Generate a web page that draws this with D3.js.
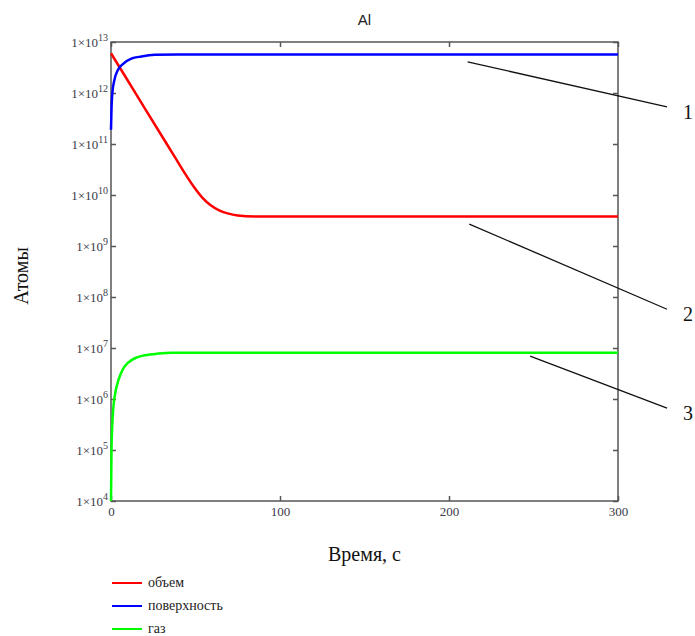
<!DOCTYPE html>
<html>
<head>
<meta charset="utf-8">
<script src="https://cdn.jsdelivr.net/npm/d3@7"></script>
<style>
  body { margin: 0; background: #fff; }
  text { font-family: "Liberation Serif", "Times New Roman", serif; }
</style>
</head>
<body>
<div id="chart"></div>
<script>
// data (time in s, number of atoms)
var volumeT = [0, 10, 20, 30, 38, 44, 49, 54, 59, 64, 69, 75, 85, 300];
var volumeN = [6.0e12, 1.74e12, 5.0e11, 1.45e11, 5.4e10, 2.57e10, 1.45e10, 8.9e9, 6.3e9, 5.0e9, 4.37e9, 3.98e9, 3.8e9, 3.8e9];

var surfaceT = [0, 0.3, 0.8, 2, 4, 7, 12, 18, 26, 40, 300];
var surfaceN = [1.9e11, 5e11, 1.0e12, 1.8e12, 2.8e12, 3.7e12, 4.7e12, 5.2e12, 5.6e12, 5.7e12, 5.7e12];

var gasT = [0, 0.3, 0.7, 1.4, 2.5, 4.3, 7, 10, 15, 20, 28, 36, 300];
var gasN = [1e4, 1e5, 2.8e5, 6.9e5, 1.3e6, 2.3e6, 3.8e6, 5.1e6, 6.5e6, 7.2e6, 7.8e6, 8.1e6, 8.1e6];

var seriesNames = ["объем", "поверхность", "газ"];
var seriesColors = ["#ff0000", "#0000ff", "#00ff00"];

var xTicks = [0, 100, 200, 300];
var yExponents = [4, 5, 6, 7, 8, 9, 10, 11, 12, 13];

// callout lines 1, 2, 3 (data coords: t, atoms)
var calloutLabels = ["1", "2", "3"];
var calloutFrom = [[211, Math.pow(10, 12.61)], [212, Math.pow(10, 9.43)], [248, Math.pow(10, 6.84)]];
var calloutTo = [[329, Math.pow(10, 11.73)], [329, Math.pow(10, 7.76)], [329, Math.pow(10, 5.82)]];

var svgWidth = 695;
var svgHeight = 636;
var margin = { top: 42, right: 77, bottom: 135, left: 111 };
var width = svgWidth - margin.left - margin.right;
var height = svgHeight - margin.top - margin.bottom;

var svg = d3.select("#chart")
  .append("svg")
  .attr("width", svgWidth)
  .attr("height", svgHeight);

var chartGroup = svg.append("g")
  .attr("transform", `translate(${margin.left}, ${margin.top})`);

var xScale = d3.scaleLinear().domain([0, 300]).range([0, width]);
var yScale = d3.scaleLog().domain([1e4, 1e13]).range([height, 0]);

var axisColor = "#555";

// frame
chartGroup.append("rect")
  .attr("width", width)
  .attr("height", height)
  .attr("fill", "none")
  .attr("stroke", axisColor)
  .attr("stroke-width", 1.5);

var yTickVals = yExponents.map(e => Math.pow(10, e));

// left axis with ticks pointing inward
var leftAxis = d3.axisLeft(yScale).tickValues(yTickVals).tickSize(-5).tickPadding(4).tickFormat("");
var leftG = chartGroup.append("g").call(leftAxis);
leftG.select(".domain").remove();
leftG.selectAll(".tick line").attr("stroke", axisColor).attr("stroke-width", 1.5);

// right axis ticks (inward)
var rightG = chartGroup.append("g")
  .attr("transform", `translate(${width},0)`)
  .call(d3.axisRight(yScale).tickValues(yTickVals).tickSize(-5).tickFormat(""));
rightG.select(".domain").remove();
rightG.selectAll(".tick line").attr("stroke", axisColor).attr("stroke-width", 1.5);

// y tick labels: 1×10^n
yExponents.forEach(function (e) {
  var t = chartGroup.append("text")
    .attr("x", -3)
    .attr("y", yScale(Math.pow(10, e)) + 5)
    .attr("text-anchor", "end")
    .attr("fill", "#3a3a48")
    .style("font-size", "13px");
  t.append("tspan").text("1×10");
  t.append("tspan").attr("dy", -6).style("font-size", "10px").text(e);
});

// bottom axis
var bottomG = chartGroup.append("g")
  .attr("transform", `translate(0, ${height})`)
  .call(d3.axisBottom(xScale).tickValues(xTicks).tickSize(-5).tickPadding(6).tickFormat(d3.format("d")));
bottomG.select(".domain").remove();
bottomG.selectAll(".tick line").attr("stroke", axisColor).attr("stroke-width", 1.5);
bottomG.selectAll(".tick text")
  .attr("fill", "#3a3a48")
  .style("font-family", "'Liberation Serif', serif")
  .style("font-size", "13px");

// top ticks
var topG = chartGroup.append("g")
  .call(d3.axisTop(xScale).tickValues(xTicks).tickSize(-5).tickFormat(""));
topG.select(".domain").remove();
topG.selectAll(".tick line").attr("stroke", axisColor).attr("stroke-width", 1.5);

// curves
var allT = [volumeT, surfaceT, gasT];
var allN = [volumeN, surfaceN, gasN];

var line = d3.line()
  .x(d => xScale(d[0]))
  .y(d => yScale(d[1]))
  .curve(d3.curveMonotoneX);

allT.forEach(function (ts, i) {
  var pts = ts.map((t, j) => [t, allN[i][j]]);
  chartGroup.append("path")
    .datum(pts)
    .attr("d", line)
    .attr("fill", "none")
    .attr("stroke", seriesColors[i])
    .attr("stroke-width", 2.5);
});

// callouts
calloutLabels.forEach(function (lab, i) {
  chartGroup.append("line")
    .attr("x1", xScale(calloutFrom[i][0]))
    .attr("y1", yScale(calloutFrom[i][1]))
    .attr("x2", xScale(calloutTo[i][0]))
    .attr("y2", yScale(calloutTo[i][1]))
    .attr("stroke", "#111")
    .attr("stroke-width", 1.3);
  chartGroup.append("text")
    .attr("x", xScale(calloutTo[i][0]) + 16)
    .attr("y", yScale(calloutTo[i][1]) + 12)
    .attr("fill", "#111")
    .style("font-size", "20px")
    .text(lab);
});

// title
svg.append("text")
  .attr("x", margin.left + width / 2)
  .attr("y", 25)
  .attr("text-anchor", "middle")
  .attr("fill", "#222")
  .style("font-family", "'Liberation Sans', Arial, sans-serif")
  .style("font-size", "15px")
  .text("Al");

// axis labels
svg.append("text")
  .attr("transform", "translate(28, 276) rotate(-90)")
  .attr("text-anchor", "middle")
  .attr("fill", "#111")
  .style("font-size", "20px")
  .text("Атомы");

svg.append("text")
  .attr("x", margin.left + width / 2)
  .attr("y", 561)
  .attr("text-anchor", "middle")
  .attr("fill", "#111")
  .style("font-size", "20px")
  .text("Время, с");

// legend
seriesNames.forEach(function (name, i) {
  var y = 583 + i * 23;
  svg.append("line")
    .attr("x1", 112).attr("x2", 142)
    .attr("y1", y).attr("y2", y)
    .attr("stroke", seriesColors[i])
    .attr("stroke-width", 2);
  svg.append("text")
    .attr("x", 148)
    .attr("y", y + 4)
    .attr("fill", "#222")
    .style("font-size", "14px")
    .text(name);
});
</script>
</body>
</html>
